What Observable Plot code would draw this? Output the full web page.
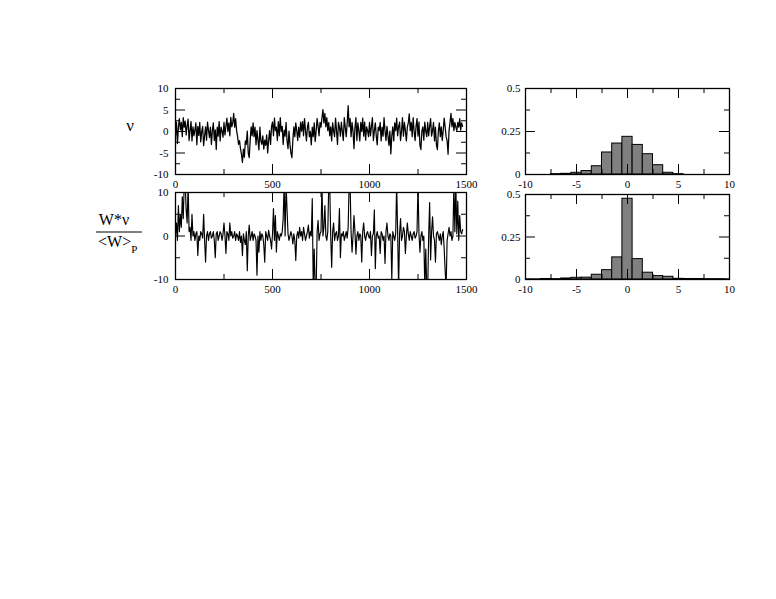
<!DOCTYPE html>
<html><head><meta charset="utf-8">
<script src="https://cdn.jsdelivr.net/npm/d3@7"></script>
<script src="https://cdn.jsdelivr.net/npm/@observablehq/plot@0.6"></script>
<style>
body{margin:0;background:#fff;}
#wrap{position:relative;width:776px;height:599px;overflow:hidden;background:#fff;}
#wrap svg{position:absolute;overflow:visible;}
</style></head><body><div id="wrap"></div>
<script>
// sampling step of the time series (time units per sample)
const step = 5;

// ν(t)
const nu = [
 -1, 2.2, -2.8, 1, 3, 0.4, 2.1, -1.2, 3.2, 1,
 2.4, -0.8, 1.3, 2.9, -2.1, 0.2, 2.3, -2.2, 1.1, -1,
 0.3, 2, -3.1, 1.2, -0.9, 2.1, -2.4, 0, 1.2, -3.3,
 -1, 1.1, -2, 2.2, 0.3, -1.4, 1, -3, 0.2, 2,
 -2.1, 0.4, -4.2, 1, -1.1, 2.3, -2.2, 1, 0.1, -1.3,
 2.1, -0.8, 1.2, 3.1, 0, 2, -1, 3.3, 1.1, 2,
 4.2, 1, 3, 0.2, -1.2, -3, -2.1, -4, -5.3, -7.2,
 -4.1, -6, -2.2, -3, 0.1, -5, -6.1, -2, 1.1, -1,
 2, -1.2, 1, -3.1, 0.2, -2, -4.3, 1, -2.2, -3,
 -1, -4.1, -2, -3.2, -0.8, -5, -2.1, 0.2, -3, 1.2,
 2.2, -1, 3.1, 0.2, 1, -2.1, 2.3, -1, 3.2, 0,
 1.2, -3, 0.3, -1.1, 2.1, -2.2, -4, 0.1, -3, -5,
 -6.1, -2, 1.1, -1.2, 2, 0.2, -2.1, 1, -1.3, 2.2,
 0.1, 2.3, -1, 3, 0.2, -2.2, 1, 2.1, -1.2, 0,
 -3.1, 1, -1.2, 2, -2.3, 0.1, 3, 1.2, -1, 2.1,
 1, 3.2, 5.1, 2, 4.2, 1.1, 3.2, 0.2, 2.1, -1,
 1.1, -2.2, 2, 0.1, -1.2, 3.1, 0.2, -3, 2.1, 1,
 -1.1, 2.2, 0, -2.1, 3.2, 1, -1.2, 2, 6, 1.1,
 3, -1.2, 2.1, 0.1, -4, 1, 3.2, -2.1, 2, 0.2,
 -2.2, 2.1, 0, 3.1, -1.1, 2.2, -2, 1.1, 0.2, -1.2,
 2.1, -1, 1.2, 3.2, -2.1, 0.1, 2, -1.1, -3.1, 1,
 0.2, 2.1, -2.2, 1, -1.1, 3.2, 0.1, -2.1, 1.2, -1,
 -3.2, 0.1, -5.2, -1, 1.1, -2.2, 2, 0.2, 3.1, -1,
 1.1, 2.2, -2.1, 0.1, 3.2, -1.1, 2.1, 0.2, -2.2, 1,
 2, 4.1, 0.2, 2.1, -1.2, 3.2, 0.1, -2.1, 1.2, 3,
 -1.1, 2.2, -3.2, -4.2, 0.1, 1.1, -2, 2.2, 0.1, -1.2,
 2.1, -1, 1.2, 3, -1.1, 0.2, 2.1, -2.2, 1, -3.1,
 -4.2, 0.1, 2, -1.2, 1.1, -2.1, 0.2, 3.1, 1, -1.2,
 -2.1, -5.3, 0.2, 2.1, 4.2, 1.1, 3, 0.2, 2.1, 1,
 0.2, 2.1, 1, 3, 0.3, 2, 1.2
];

// W*ν / <W>_P (values past ±10 are clipped by the frame)
const wnu = [
 0, 3, -1, 7, 1, 5, 2, 9, 4, 12,
 12, 6, 3, 12, 1, 2, -1, 5, 0, 1,
 -1, 0.5, 1, -4.5, 0, -1, 1, 0.5, -0.5, 5,
 -1, -6, 0, 1, -1, 0.5, 1, -0.5, 0, 1,
 -1, -5, 0.5, 1, -1, 0, 1, 0.5, -1, 0.5,
 3, 0, -4, 1, 0.5, -1, 3, 0, 1, -0.5,
 0, 1, -1, 0.5, 0, -1, 1, -1.5, 0, -4.5,
 0.5, -1, -2, 1, -8, 0, 2.5, -1, 0, 1,
 -1, 0.5, 0, -1, -9, 0, -3.7, 1, -1, 0.5,
 0, -2, -6, 1, 0, -1, 1.3, 0, -1, -3,
 0.5, 6.3, -1, 4.7, -3.7, 1, 0, -1, 0.5, 0,
 1, 4, 12, 0, 12, 6, 0.5, -1, 0, 1,
 0, -1.8, 0.5, -1, -5.6, 0, 1, -0.5, 2, 0,
 1, -1, 2, 0.5, -1, 0, 1, 2.5, -0.5, 1,
 0, 8.6, -12, -3, -12, -12, 1, 3.6, -1, 0.5,
 1, 12, 0, 2, 7, 0, -1, 1, 12, 12,
 0, -7.2, 1, 3, -1, 0.5, 1, -1, 0, 6.3,
 -5, 0.5, 0, 1, -1, 0, 1, -0.5, 2, 12,
 12, 1, -3.7, 0, 4.7, 1, -4.2, 0, 1, -1,
 0.5, 0, -6, 1, 3, 0, -1, 0.5, 1, 0,
 -0.5, 1, -4.5, 0, 0.5, 6, -7.5, 0, 1, -0.5,
 0, -4, 1, 0.5, -1, 0, -6.3, 1, 3, 0,
 -1, 0.5, 0, -10, 1, 0, -1, 0.5, 12, 1,
 -12, 0.5, 4, -1, 0, 2, 1, -4, 0, 3,
 0.5, -1, 1, 0, -1, 0.5, 1, -0.5, 0, 1,
 12, 0.5, -3.7, 0, 1, -1, 0, -12, -3, -12,
 -12, 0, 7.7, -5.5, 1, 4.4, 0, -1, -6, 0.5,
 1, 0, -1, 0.5, -2, 0, 1, -3, -8, -12,
 -1, 0.5, 2, 0, 1, -1, 0, 12, 1, 12,
 0.5, 8, -1, 4.7, 1, 0.5, 1.5
];

// histogram bins (unit width, centred on integers) and relative frequencies
const binCenters = [-10,-9,-8,-7,-6,-5,-4,-3,-2,-1,0,1,2,3,4,5,6,7,8,9,10];
const histNu  = [0,0,0,0.002,0.004,0.01,0.02,0.048,0.128,0.18,0.219,0.172,0.118,0.054,0.01,0.002,0,0,0,0,0];
const histWnu = [0.001,0.001,0.003,0.002,0.006,0.01,0.011,0.028,0.055,0.13,0.475,0.12,0.04,0.02,0.016,0.004,0.003,0.003,0.002,0.002,0.001];

// tick values
const tTicksLabel = [0, 500, 1000, 1500];
const tTicksMajor = [500, 1000];
const tTicksMinor = [250, 750, 1250];
const nuTicksLabel = [-10, -5, 0, 5, 10];
const nuTicksMajor = [-5, 0, 5];
const nuTicksMinor = [-7.5, -2.5, 2.5, 7.5];
const wTicksLabel = [-10, 0, 10];
const wTicksMajor = [0];
const wTicksMinor = [-5, 5];
const hxTicksLabel = [-10, -5, 0, 5, 10];
const hxTicksMajor = [-5, 0, 5];
const hxTicksMinor = [-7.5, -2.5, 2.5, 7.5];
const hyTicksLabel = [0, 0.25, 0.5];
const hyTicksMajor = [0.25];
const hyTicksMinor = [0.125, 0.375];

const wrap = document.getElementById("wrap");
const FONT = "Liberation Serif, Times New Roman, serif";

function panel(o) {
  const mL = 40, mR = 12, mT = 12, mB = 22;
  const {fx, fy, fw, fh} = o;
  const LM = 10, LS = 5;
  const tickMarks = [];
  const addX = (vals, len) => {
    tickMarks.push(Plot.ruleX(vals, {x: d => d, insetTop: fh - len, stroke: "black"}));
    tickMarks.push(Plot.ruleX(vals, {x: d => d, insetBottom: fh - len, stroke: "black"}));
  };
  const addY = (vals, len) => {
    tickMarks.push(Plot.ruleY(vals, {y: d => d, insetRight: fw - len, stroke: "black"}));
    tickMarks.push(Plot.ruleY(vals, {y: d => d, insetLeft: fw - len, stroke: "black"}));
  };
  addX(o.xMajor, LM); addX(o.xMinor, LS);
  addY(o.yMajor, LM); addY(o.yMinor, LS);
  const marks = [
    ...o.marks,
    ...tickMarks,
    Plot.frame({stroke: "black", strokeWidth: 1.3}),
    Plot.axisY(o.yLabels, {anchor: "left", tickSize: 0, tickPadding: o.yPad, tickFormat: d => String(d), label: null, fontSize: 11}),
  ];
  if (o.xLabels) marks.push(Plot.axisX(o.xLabels, {anchor: "bottom", tickSize: 0, tickPadding: 6, tickFormat: d => String(d), label: null, fontSize: 11}));
  const svg = Plot.plot({
    width: fw + mL + mR, height: fh + mT + mB,
    marginLeft: mL, marginRight: mR, marginTop: mT, marginBottom: mB,
    x: {domain: o.xDomain, axis: null},
    y: {domain: o.yDomain, axis: null},
    style: {fontFamily: FONT, fontSize: "11px", background: "none", overflow: "visible", color: "black"},
    marks
  });
  svg.style.left = (fx - mL) + "px";
  svg.style.top = (fy - mT) + "px";
  wrap.appendChild(svg);
}

// upper-left: ν(t)
panel({
  fx: 175, fy: 88, fw: 291, fh: 86,
  xDomain: [0, 1500], yDomain: [-10, 10],
  xMajor: tTicksMajor, xMinor: tTicksMinor, yMajor: nuTicksMajor, yMinor: nuTicksMinor,
  xLabels: tTicksLabel, yLabels: nuTicksLabel, yPad: 7,
  marks: [Plot.line(nu, {x: (d, i) => i * step, y: d => d, stroke: "black", strokeWidth: 1.25, clip: true})]
});

// lower-left: W*ν/<W>_P (t)
panel({
  fx: 175, fy: 192, fw: 291, fh: 87,
  xDomain: [0, 1500], yDomain: [-10, 10],
  xMajor: tTicksMajor, xMinor: tTicksMinor, yMajor: wTicksMajor, yMinor: wTicksMinor,
  xLabels: tTicksLabel, yLabels: wTicksLabel, yPad: 7,
  marks: [Plot.line(wnu, {x: (d, i) => i * step, y: d => d, stroke: "black", strokeWidth: 1.15, clip: true})]
});

const histRows = (vals) => binCenters.map((c, i) => ({c, h: vals[i]})).filter(d => d.h > 0);

// upper-right: histogram of ν
panel({
  fx: 525, fy: 88, fw: 204, fh: 86,
  xDomain: [-10, 10], yDomain: [0, 0.5],
  xMajor: hxTicksMajor, xMinor: hxTicksMinor, yMajor: hyTicksMajor, yMinor: hyTicksMinor,
  xLabels: hxTicksLabel, yLabels: hyTicksLabel, yPad: 5,
  marks: [Plot.rectY(histRows(histNu), {x1: d => d.c - 0.5, x2: d => d.c + 0.5, y: "h", fill: "#808080", stroke: "black", strokeWidth: 1, clip: true})]
});

// lower-right: histogram of W*ν/<W>_P
panel({
  fx: 525, fy: 194, fw: 204, fh: 85,
  xDomain: [-10, 10], yDomain: [0, 0.5],
  xMajor: hxTicksMajor, xMinor: hxTicksMinor, yMajor: hyTicksMajor, yMinor: hyTicksMinor,
  xLabels: hxTicksLabel, yLabels: hyTicksLabel, yPad: 5,
  marks: [Plot.rectY(histRows(histWnu), {x1: d => d.c - 0.5, x2: d => d.c + 0.5, y: "h", fill: "#808080", stroke: "black", strokeWidth: 1, clip: true})]
});

// row labels
const lab = d3.select(wrap).append("svg")
  .attr("width", 776).attr("height", 599)
  .style("left", "0px").style("top", "0px")
  .style("font-family", FONT).attr("fill", "black");
lab.append("text").attr("x", 130).attr("y", 131).attr("text-anchor", "middle")
  .style("font-size", "17px").text("ν");
lab.append("text").attr("x", 114).attr("y", 225).attr("text-anchor", "middle")
  .style("font-size", "16px").text("W*ν");
lab.append("line").attr("x1", 96).attr("x2", 142).attr("y1", 232).attr("y2", 232)
  .attr("stroke", "black").attr("stroke-width", 1);
const den = lab.append("text").attr("x", 98).attr("y", 247).style("font-size", "16px");
den.append("tspan").text("<W>");
den.append("tspan").attr("dy", 6).style("font-size", "11px").text("P");
</script></body></html>
